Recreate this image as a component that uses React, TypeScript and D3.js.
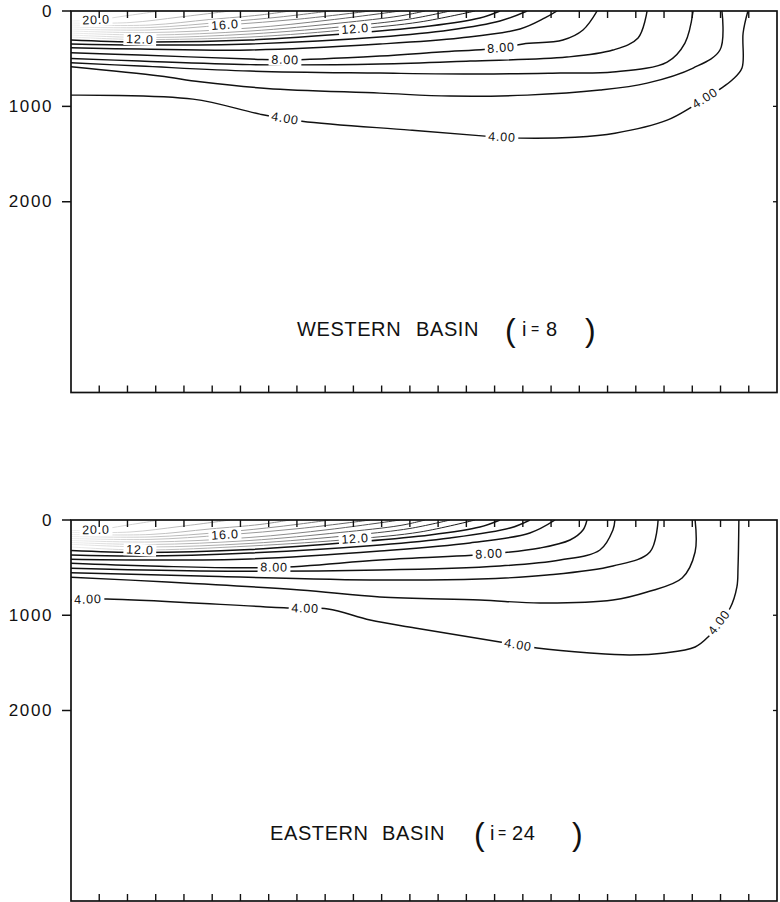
import React from "react";
import * as d3 from "d3";

type P = [number, number]; // [grid column, depth (m)]

const gridCols = 25;
const depthMax = 4000;
const depthTicks = [0, 1000, 2000];
const depthTickLabels = ["0", "1000", "2000"];
const rightTicks = [1000, 2000];
const colTicks = d3.range(1, 25);
const levels = [4, 5, 6, 7, 8, 9, 10, 11, 12, 13, 14, 15, 16, 17, 18, 19, 20];

// ---------- WESTERN BASIN (i=8) isotherms ----------
const w4: P[] = [[0, 882], [4.32, 924], [6.69, 1081], [8.18, 1155], [12.0, 1249], [14.66, 1312], [15.9, 1333], [17.85, 1323], [19.26, 1281], [21.11, 1144], [22.03, 997], [22.98, 819], [23.41, 724], [23.76, 598], [23.8, 231], [23.97, 0]];
const w5: P[] = [[0, 585], [3.15, 682], [4.57, 742], [6.94, 812], [10.94, 861], [13.42, 892], [16.15, 882], [18.73, 829], [20.4, 756], [22.03, 598], [22.98, 409], [23.05, 0]];
const w6: P[] = [[0, 543], [2.44, 577], [6.34, 630], [10.94, 651], [14.48, 661], [17.32, 651], [19.19, 640], [21.11, 535], [21.74, 336], [22.03, 0]];
const w7: P[] = [[0, 497], [2.44, 525], [6.34, 562], [10.94, 556], [14.13, 525], [17.56, 483], [19.19, 409], [20.08, 283], [20.4, 0]];
const w8: P[] = [[0, 438], [2.44, 462], [6.34, 504], [7.58, 514], [10.94, 472], [13.07, 430], [15.23, 388], [16.01, 346], [17.42, 304], [18.13, 199], [18.63, 0]];
const w9: P[] = [[0, 386], [2.44, 399], [6.34, 409], [10.94, 346], [13.77, 283], [15.9, 189], [16.78, 73], [17.21, 0]];
const w10: P[] = [[0, 346], [2.44, 357], [6.34, 346], [10.94, 273], [13.42, 199], [15.19, 105], [16.15, 0]];
const w11: P[] = [[0, 304], [2.44, 325], [6.34, 304], [10.06, 231], [12.71, 157], [14.48, 73], [15.19, 0]];
const w12: P[] = [[0, 273], [2.44, 299], [6.34, 273], [10.06, 189], [12.36, 115], [14.31, 0]];
const w13: P[] = [[0, 252], [2.8, 278], [6.34, 241], [10.06, 152], [12.0, 84], [13.42, 0]];
const w14: P[] = [[0, 231], [2.8, 252], [6.34, 210], [9.53, 126], [11.65, 52], [12.54, 0]];
const w15: P[] = [[0, 210], [2.8, 226], [6.34, 178], [9.17, 94], [11.65, 0]];
const w16: P[] = [[0, 189], [2.8, 199], [5.45, 147], [8.11, 84], [10.59, 0]];
const w17: P[] = [[0, 168], [2.8, 173], [5.45, 115], [7.4, 63], [9.17, 0]];
const w18: P[] = [[0, 147], [2.8, 147], [4.92, 89], [6.69, 42], [7.75, 0]];
const w19: P[] = [[0, 126], [2.09, 121], [3.86, 63], [5.63, 0]];
const w20: P[] = [[0, 105], [0.885, 94], [1.91, 52], [3.15, 0]];
const westernLines = [w4, w5, w6, w7, w8, w9, w10, w11, w12, w13, w14, w15, w16, w17, w18, w19, w20];
// [level, column, depth]
const westernLabels: [number, number, number][] = [
  [20, 0.885, 94], [16, 5.45, 147], [12, 2.44, 299], [12, 10.06, 189],
  [8, 7.58, 514], [8, 15.23, 388], [4, 7.58, 1128], [4, 15.26, 1323], [4, 22.45, 915],
];

// ---------- EASTERN BASIN (i=24) isotherms ----------
const e4: P[] = [[0, 840], [1.27, 829], [7.75, 924], [9.1, 934], [10.59, 1050], [12.18, 1134], [15.19, 1281], [16.5, 1344], [18.38, 1396], [19.79, 1417], [21.03, 1396], [22.1, 1333], [22.56, 1228], [23.34, 924], [23.58, 703], [23.62, 493], [23.65, 0]];
const e5: P[] = [[0, 602], [3.4, 651], [8.11, 735], [10.94, 808], [14.48, 840], [16.61, 871], [19.19, 840], [20.4, 756], [21.64, 609], [22.1, 336], [22.1, 0]];
const e6: P[] = [[0, 553], [4.57, 588], [10.94, 630], [14.48, 620], [16.86, 578], [19.19, 483], [20.5, 336], [20.79, 0]];
const e7: P[] = [[0, 507], [4.57, 535], [10.94, 525], [15.19, 483], [17.32, 420], [18.73, 315], [19.19, 105], [19.26, 0]];
const e8: P[] = [[0, 455], [2.8, 483], [7.19, 499], [10.94, 420], [14.8, 357], [16.61, 294], [17.67, 210], [18.13, 105], [18.27, 0]];
const e9: P[] = [[0, 413], [2.44, 420], [6.34, 409], [10.94, 325], [14.13, 241], [16.25, 136], [17.14, 0]];
const e10: P[] = [[0, 367], [2.44, 378], [6.34, 346], [10.94, 262], [13.42, 189], [15.55, 84], [16.25, 0]];
const e11: P[] = [[0, 320], [2.44, 341], [6.34, 310], [10.06, 231], [12.71, 157], [14.48, 73], [15.19, 0]];
const e12: P[] = [[0, 283], [2.44, 315], [6.34, 273], [10.06, 199], [12.36, 126], [14.31, 0]];
const e13: P[] = [[0, 255], [2.8, 283], [6.34, 246], [10.06, 157], [12.0, 89], [13.42, 0]];
const e14: P[] = [[0, 236], [2.8, 257], [6.34, 215], [9.53, 131], [11.65, 58], [12.54, 0]];
const e15: P[] = [[0, 215], [2.8, 231], [6.34, 183], [9.17, 99], [11.65, 0]];
const e16: P[] = [[0, 194], [2.8, 204], [5.45, 157], [8.11, 89], [10.59, 0]];
const e17: P[] = [[0, 173], [2.8, 178], [5.45, 126], [7.4, 68], [9.17, 0]];
const e18: P[] = [[0, 152], [2.8, 152], [4.92, 94], [6.69, 47], [7.75, 0]];
const e19: P[] = [[0, 131], [2.09, 126], [3.86, 68], [5.63, 0]];
const e20: P[] = [[0, 110], [0.885, 105], [1.91, 58], [3.15, 0]];
const easternLines = [e4, e5, e6, e7, e8, e9, e10, e11, e12, e13, e14, e15, e16, e17, e18, e19, e20];
const easternLabels: [number, number, number][] = [
  [20, 0.885, 105], [16, 5.45, 157], [12, 2.44, 315], [12, 10.06, 199],
  [8, 7.19, 499], [8, 14.8, 357], [4, 0.6, 835], [4, 8.29, 929], [4, 15.83, 1312], [4, 22.95, 1076],
];

const X0 = 71;
const X1 = 777;
const FONT = "'Liberation Sans', Arial, Helvetica, sans-serif";

function fmt(l: number) {
  return l >= 10 ? l.toFixed(1) : l.toFixed(2);
}

function segAngle(pts: [number, number][], px: number, py: number) {
  let best = Infinity;
  let ang = 0;
  for (let i = 0; i < pts.length - 1; i++) {
    const [ax, ay] = pts[i];
    const [bx, by] = pts[i + 1];
    const dx = bx - ax, dy = by - ay;
    const L = dx * dx + dy * dy || 1;
    let t = ((px - ax) * dx + (py - ay) * dy) / L;
    t = Math.max(0, Math.min(1, t));
    const cx = ax + t * dx, cy = ay + t * dy;
    const d = (px - cx) ** 2 + (py - cy) ** 2;
    if (d < best) {
      best = d;
      let a = (Math.atan2(dy, dx) * 180) / Math.PI;
      if (a > 90) a -= 180;
      if (a < -90) a += 180;
      ang = a;
    }
  }
  return ang;
}

type TitlePart = { t: string; x: number; size: number; dy?: number };

function Panel(props: {
  top: number;
  bottom: number;
  lines: P[][];
  labels: [number, number, number][];
  title: TitlePart[];
  titleY: number;
  id: string;
}) {
  const { top, bottom, lines, labels, title, titleY, id } = props;
  const x = d3.scaleLinear().domain([0, gridCols]).range([X0, X1]);
  const y = d3.scaleLinear().domain([0, depthMax]).range([top, bottom]);
  const lineGen = d3
    .line<P>()
    .x((d) => x(d[0]))
    .y((d) => y(d[1]))
    .curve(d3.curveCatmullRom.alpha(0.5));

  return (
    <g>
      <defs>
        <clipPath id={`clip-${id}`}>
          <rect x={X0} y={top} width={X1 - X0} height={bottom - top} />
        </clipPath>
      </defs>
      <g clipPath={`url(#clip-${id})`}>
        {lines.map((pts, i) => (
          <path
            key={i}
            d={lineGen(pts) || ""}
            fill="none"
            stroke={levels[i] >= 12 ? "url(#fade)" : "#111"}
            strokeWidth={levels[i] >= 12 ? 1.0 : 1.45}
            strokeLinejoin="round"
          />
        ))}
        {labels.map(([lev, c, d], i) => {
          const idx = levels.indexOf(lev);
          const pix: [number, number][] = lines[idx].map((p) => [x(p[0]), y(p[1])]);
          const px = x(c);
          const py = y(d);
          const a = segAngle(pix, px, py);
          const txt = fmt(lev);
          const w = txt.length * 7.2 + 4;
          return (
            <g key={i} transform={`translate(${px},${py}) rotate(${a})`}>
              <rect x={-w / 2} y={-6} width={w} height={12} fill="#fff" />
              <text
                x={0}
                y={0}
                textAnchor="middle"
                dominantBaseline="central"
                fontFamily={FONT}
                fontSize={12.5}
                letterSpacing={0.8}
                fill="#111"
              >
                {txt}
              </text>
            </g>
          );
        })}
      </g>
      <rect x={X0} y={top} width={X1 - X0} height={bottom - top} fill="none" stroke="#111" strokeWidth={1.7} />
      {colTicks.map((c) => (
        <g key={c}>
          <line x1={x(c)} x2={x(c)} y1={top} y2={top + 7} stroke="#111" strokeWidth={1.4} />
          <line x1={x(c)} x2={x(c)} y1={bottom} y2={bottom - 7} stroke="#111" strokeWidth={1.4} />
        </g>
      ))}
      {depthTicks.map((d, i) => (
        <g key={d}>
          <line x1={X0 - 9} x2={X0} y1={y(d)} y2={y(d)} stroke="#111" strokeWidth={1.5} />
          <text
            x={53}
            y={y(d)}
            textAnchor="end"
            dominantBaseline="central"
            fontFamily={FONT}
            fontSize={17}
            letterSpacing={1.6}
            fill="#111"
          >
            {depthTickLabels[i]}
          </text>
        </g>
      ))}
      {rightTicks.map((d) => (
        <line key={d} x1={X1 - 4} x2={X1} y1={y(d)} y2={y(d)} stroke="#111" strokeWidth={1.3} />
      ))}
      {title.map((p, i) => (
        <text
          key={i}
          x={p.x}
          y={titleY + (p.dy || 0)}
          fontFamily={FONT}
          fontSize={p.size}
          letterSpacing={p.size > 24 ? 0 : 0.6}
          fill="#111"
        >
          {p.t}
        </text>
      ))}
    </g>
  );
}

const westTitle: TitlePart[] = [
  { t: "WESTERN", x: 297, size: 20 },
  { t: "BASIN", x: 416, size: 20 },
  { t: "(", x: 505, size: 32, dy: 5 },
  { t: "i", x: 522, size: 20 },
  { t: "=", x: 531, size: 14, dy: -2 },
  { t: "8", x: 546, size: 20 },
  { t: ")", x: 585, size: 32, dy: 5 },
];
const eastTitle: TitlePart[] = [
  { t: "EASTERN", x: 270, size: 20 },
  { t: "BASIN", x: 382, size: 20 },
  { t: "(", x: 474, size: 32, dy: 5 },
  { t: "i", x: 490, size: 20 },
  { t: "=", x: 498, size: 14, dy: -2 },
  { t: "24", x: 512, size: 20 },
  { t: ")", x: 572, size: 32, dy: 5 },
];

export default function App() {
  return (
    <svg
      width={780}
      height={902}
      viewBox="0 0 780 902"
      style={{ position: "absolute", left: 0, top: 0, background: "#fff" }}
    >
      <defs>
        <linearGradient id="fade" gradientUnits="userSpaceOnUse" x1={X0} y1={0} x2={470} y2={0}>
          <stop offset="0" stopColor="#eeeeee" />
          <stop offset="0.2" stopColor="#c8c8c8" />
          <stop offset="0.55" stopColor="#8a8a8a" />
          <stop offset="0.85" stopColor="#333" />
          <stop offset="1" stopColor="#111" />
        </linearGradient>
      </defs>
      <rect x={0} y={0} width={780} height={902} fill="#fff" />
      <Panel
        id="w"
        top={11}
        bottom={392.5}
        lines={westernLines}
        labels={westernLabels}
        title={westTitle}
        titleY={336}
      />
      <Panel
        id="e"
        top={520}
        bottom={901}
        lines={easternLines}
        labels={easternLabels}
        title={eastTitle}
        titleY={840}
      />
    </svg>
  );
}
